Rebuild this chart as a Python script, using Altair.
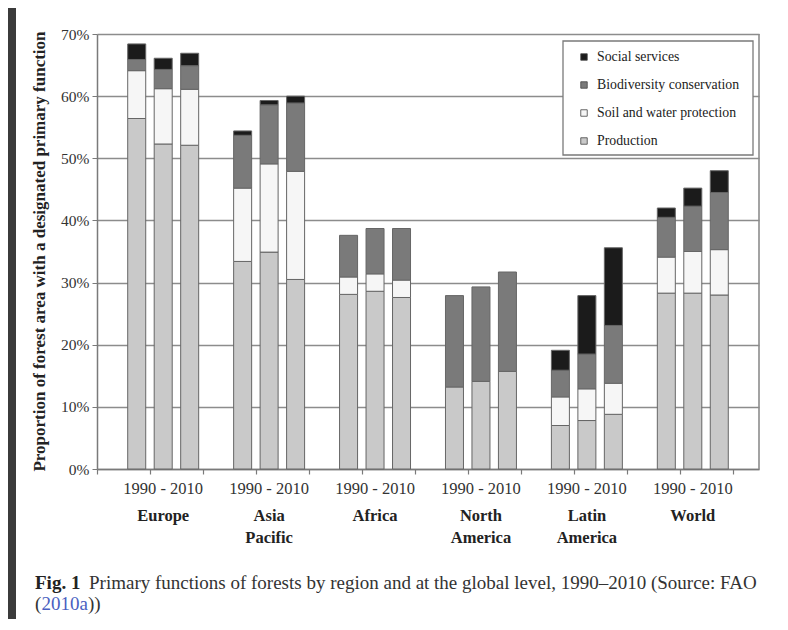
import altair as alt
import pandas as pd

# ---------------- data ----------------
regions = ["Europe", "Asia Pacific", "Africa", "North America", "Latin America", "World"]
region_labels = ["Europe", "Asia\nPacific", "Africa", "North\nAmerica", "Latin\nAmerica", "World"]
years = ["1990", "2000", "2010"]
functions = ["Production", "Soil and water protection", "Biodiversity conservation", "Social services"]
colors = ["#c9c9c9", "#f6f6f6", "#7a7a7a", "#1b1b1b"]

production = [56.4, 52.3, 52.1, 33.4, 34.9, 30.5, 28.1, 28.6, 27.6, 13.2, 14.1, 15.7, 7.0, 7.8, 8.8, 28.3, 28.3, 28.0]
soil = [7.7, 8.9, 9.0, 11.8, 14.2, 17.4, 2.8, 2.8, 2.8, 0.0, 0.0, 0.0, 4.6, 5.1, 5.0, 5.8, 6.7, 7.3]
biodiversity = [1.8, 3.1, 3.8, 8.5, 9.5, 11.0, 6.7, 7.3, 8.3, 14.7, 15.2, 16.0, 4.3, 5.6, 9.3, 6.4, 7.3, 9.2]
social = [2.5, 1.8, 2.0, 0.7, 0.7, 1.1, 0.0, 0.0, 0.0, 0.0, 0.0, 0.0, 3.2, 9.4, 12.5, 1.5, 2.9, 3.5]

y_ticks = [0, 10, 20, 30, 40, 50, 60, 70]
year_span_label = "1990 - 2010"
y_title = "Proportion of forest area with a designated primary function"
caption_bold = "Fig. 1"
caption_rest = "Primary functions of forests by region and at the global level, 1990\u20132010 (Source: FAO"
caption_l2 = ["(", "2010a", "))"]

SERIF = "Liberation Serif, Times New Roman, serif"
W, H = 662, 435
N_SLOTS = 25
CAP_FS = 19

# ---------------- table ----------------
series = [production, soil, biodiversity, social]
rows = []
for gi, reg in enumerate(regions):
    for yi, yr in enumerate(years):
        idx = gi * 3 + yi
        slot = gi * 4 + 1 + yi
        for k, (fn, vals) in enumerate(zip(functions, series)):
            rows.append(dict(region=reg, year=yr, slot=slot, x0=slot + 0.16, x1=slot + 0.84,
                             fn=fn, k=k, value=vals[idx]))
df = pd.DataFrame(rows)

grp = pd.DataFrame({"region": regions, "label": region_labels,
                    "xc": [gi * 4 + 2.5 for gi in range(len(regions))],
                    "span": [year_span_label] * len(regions)})

xscale = alt.Scale(domain=[0, N_SLOTS], nice=False, zero=False)
yscale = alt.Scale(domain=[0, 70], nice=False)

xaxis = alt.Axis(values=list(range(N_SLOTS + 1)), labels=False, title=None, grid=False,
                 domainColor="#7a7a7a", domainWidth=1.5, tickColor="#7a7a7a", tickSize=5, tickWidth=1.2)
yaxis = alt.Axis(values=y_ticks, labelExpr="datum.value + '%'", title=None, grid=True,
                 gridColor="#8c8c8c", gridWidth=1.6, domainColor="#7a7a7a", domainWidth=1.5,
                 tickColor="#7a7a7a", tickSize=5, labelFont=SERIF, labelFontSize=15.5,
                 labelColor="#333333", labelPadding=3)

bars = alt.Chart(df).transform_filter("datum.value > 0").transform_stack(
    stack="value", groupby=["slot"], as_=["y0", "y1"], sort=[alt.SortField("k", order="ascending")]
).mark_bar(stroke="#666666", strokeWidth=1).encode(
    x=alt.X("x0:Q", scale=xscale, axis=xaxis),
    x2="x1:Q",
    y=alt.Y("y0:Q", scale=yscale, axis=yaxis),
    y2="y1:Q",
    color=alt.Color("fn:N", scale=alt.Scale(domain=functions, range=colors), legend=None),
)

one = pd.DataFrame({"a": [0]})

right_border = alt.Chart(one).mark_rule(color="#8c8c8c", strokeWidth=1.6).encode(
    x=alt.value(W), y=alt.value(0), y2=alt.value(H))

span_text = alt.Chart(grp).mark_text(font=SERIF, fontSize=16.5, color="#333333", baseline="middle").encode(
    x=alt.X("xc:Q", scale=xscale), y=alt.value(455), text="span:N")

region_text = alt.Chart(grp).mark_text(font=SERIF, fontSize=16.5, fontWeight="bold", color="#222222",
                                       baseline="top", lineBreak="\n", lineHeight=22).encode(
    x=alt.X("xc:Q", scale=xscale), y=alt.value(474), text="label:N")

title_text = alt.Chart(one).mark_text(font=SERIF, fontSize=17, fontWeight="bold", color="#222222",
                                      angle=270, align="center", baseline="middle").encode(
    x=alt.value(-57), y=alt.value(H / 2), text=alt.value(y_title))

# legend box
legend_box = alt.Chart(one).mark_rect(fill="white", stroke="#7a7a7a", strokeWidth=1.3).encode(
    x=alt.value(466), x2=alt.value(656), y=alt.value(7), y2=alt.value(121))
legend_layers = [legend_box]
for i, (fn, col) in enumerate(zip(functions[::-1], colors[::-1])):
    py = 23 + i * 28
    legend_layers.append(alt.Chart(one).mark_square(size=42, fill=col, stroke="#444444", strokeWidth=0.8,
                                                    opacity=1).encode(
        x=alt.value(487), y=alt.value(py)))
    legend_layers.append(alt.Chart(one).mark_text(font=SERIF, fontSize=13.8, color="#222222",
                                                  align="left", baseline="middle").encode(
        x=alt.value(500), y=alt.value(py), text=alt.value(fn)))

# caption
cap_y1 = 549
cap_y2 = 570
cap = [
    alt.Chart(one).mark_text(font=SERIF, fontSize=CAP_FS, fontWeight="bold", color="#222222",
                             align="left", baseline="middle").encode(
        x=alt.value(-62), y=alt.value(cap_y1), text=alt.value(caption_bold)),
    alt.Chart(one).mark_text(font=SERIF, fontSize=CAP_FS, color="#333333", align="left", baseline="middle").encode(
        x=alt.value(-8), y=alt.value(cap_y1), text=alt.value(caption_rest)),
    alt.Chart(one).mark_text(font=SERIF, fontSize=CAP_FS, color="#333333", align="left", baseline="middle").encode(
        x=alt.value(-62), y=alt.value(cap_y2), text=alt.value(caption_l2[0])),
    alt.Chart(one).mark_text(font=SERIF, fontSize=CAP_FS, color="#4a5fc1", align="left", baseline="middle").encode(
        x=alt.value(-55.5), y=alt.value(cap_y2), text=alt.value(caption_l2[1])),
    alt.Chart(one).mark_text(font=SERIF, fontSize=CAP_FS, color="#333333", align="left", baseline="middle").encode(
        x=alt.value(-9), y=alt.value(cap_y2), text=alt.value(caption_l2[2])),
]

# dark frame strip at left (part of the reference screenshot)
strip = alt.Chart(one).mark_rect(color="#3b3b3b").encode(
    x=alt.value(-89), x2=alt.value(-81), y=alt.value(-26), y2=alt.value(588))

chart = alt.layer(
    bars, right_border, *legend_layers, span_text, region_text, title_text, *cap, strip
).properties(
    width=W, height=H,
    padding={"left": 89, "top": 26, "right": 21, "bottom": 150},
    autosize=alt.AutoSizeParams(type="none"),
    background="white",
).configure_view(stroke=None)

chart.save("out.html", embed_options={"renderer": "svg", "actions": False})
